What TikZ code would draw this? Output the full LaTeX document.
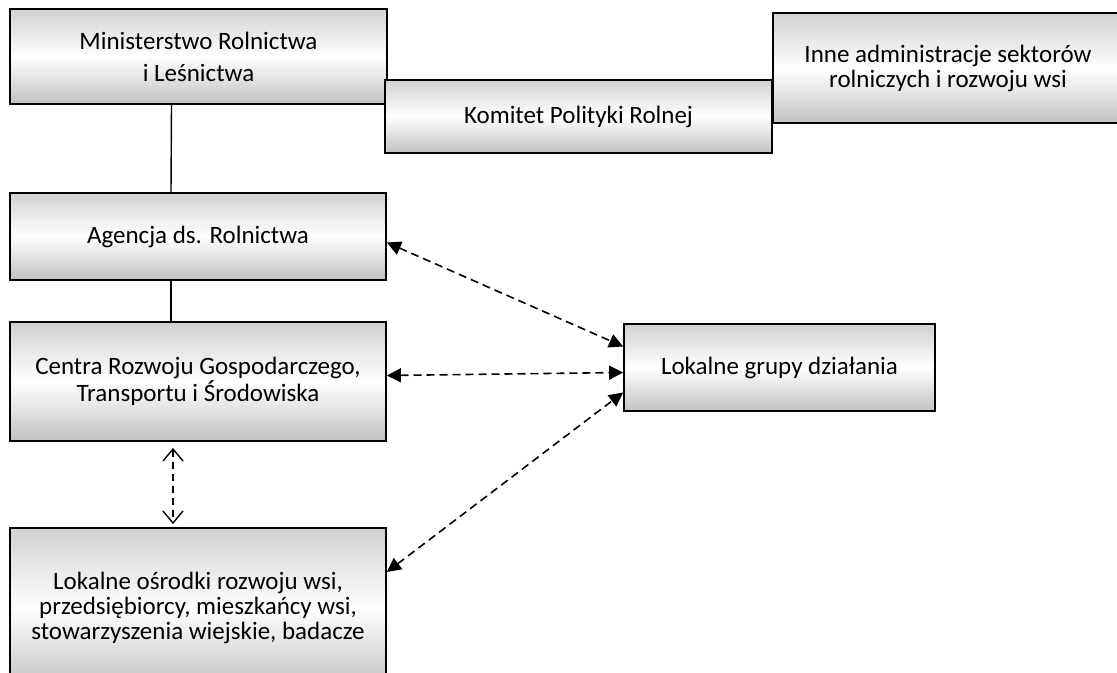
\documentclass[tikz,border=0pt]{standalone}
\usepackage{fontspec}
\setmainfont{Carlito}
\usetikzlibrary{arrows.meta}

\tikzset{
	box/.style={draw, line width=0.9pt, top color=black!18, bottom color=black!24, middle color=white,
		align=center, inner sep=2pt, font=\fontsize{12.5}{12.5}\selectfont},
	link/.style={line width=0.7pt},
	dlink/.style={line width=0.8pt, dash pattern=on 4pt off 2.5pt,
		{Triangle[length=7pt,width=7pt]}-{Triangle[length=7pt,width=7pt]}},
	vlink/.style={line width=0.7pt, dash pattern=on 3.5pt off 2.5pt,
		{Straight Barb[length=6pt,width=10pt]}-{Straight Barb[length=6pt,width=10pt]}},
}

\begin{document}
\begin{tikzpicture}[x=0.5pt,y=-0.5pt]

	\useasboundingbox (0,0) rectangle (1117,673);

	% top row
	\node[box, minimum width=188.5pt, minimum height=47.5pt, font=\fontsize{12.5}{16}\selectfont] (min) at (198.5,56.5) {Ministerstwo Rolnictwa\\i Leśnictwa};
	\node[box, minimum width=193.5pt, minimum height=36.5pt] (kom) at (578.5,116.5) {Komitet Polityki Rolnej};
	\node[box, minimum width=175pt, minimum height=55pt] (inne) at (948,68) {Inne administracje sektorów\\rolniczych i rozwoju wsi};

	% left column
	\node[box, minimum width=188pt, minimum height=43.5pt] (ag) at (198,236.5) {Agencja ds. Rolnictwa};
	\node[box, minimum width=188pt, minimum height=59.5pt, font=\fontsize{12.5}{10.8}\selectfont] (cen) at (198,381.5) {Centra Rozwoju Gospodarczego,\\Transportu i Środowiska};
	\node[box, minimum width=188pt, minimum height=80pt] (osr) at (198,608) {Lokalne ośrodki rozwoju wsi,\\przedsiębiorcy, mieszkańcy wsi,\\stowarzyszenia wiejskie, badacze};

	% right
	\node[box, minimum width=155.5pt, minimum height=43.5pt] (lgd) at (779.5,367.5) {Lokalne grupy działania};

	% lines
	\draw[link] ([xshift=-13.5pt]min.south) -- ([xshift=-13.5pt]ag.north);
	\draw[link] ([xshift=-13.5pt]ag.south) -- ([xshift=-13.5pt]cen.north);

	% dashed arrows
	\draw[dlink] ([yshift=-3pt]ag.east) -- ([yshift=10.5pt]lgd.west);
	\draw[dlink] ([yshift=3pt]cen.east) -- ([yshift=-2.5pt]lgd.west);
	\draw[dlink] ([yshift=18pt]osr.east) -- ([yshift=-12.5pt]lgd.west);
	\draw[vlink] ([xshift=-12.5pt,yshift=-3pt]cen.south) -- ([xshift=-12.5pt,yshift=1.5pt]osr.north);

\end{tikzpicture}
\end{document}
